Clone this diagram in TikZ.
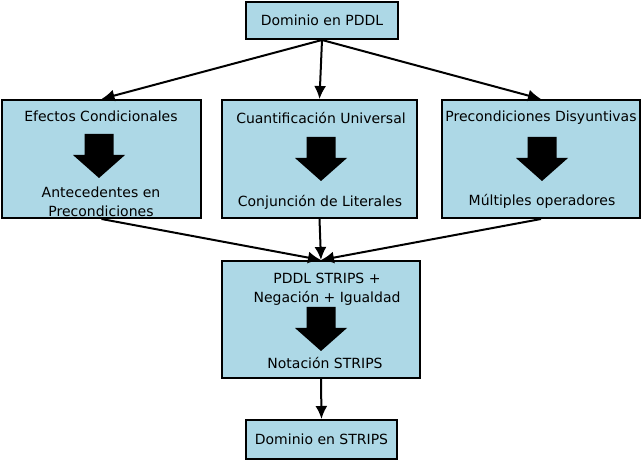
\documentclass[tikz,border=0pt]{standalone}
\usepackage{fontspec}
\setmainfont{DejaVu Sans}
\usetikzlibrary{positioning,arrows.meta}
\definecolor{cajaazul}{RGB}{173,216,230}
% flecha gruesa hacia abajo: centro x, borde superior y
\newcommand{\flechagrande}[2]{%
  \fill[black] (#1-14.5,#2) -- (#1+14.5,#2) -- (#1+14.5,#2+21) -- (#1+26,#2+21)
    -- (#1,#2+44) -- (#1-26,#2+21) -- (#1-14.5,#2+21) -- cycle;}

\begin{document}
\begin{tikzpicture}[x=1pt,y=-1pt,
      caja/.style={rectangle,draw=black,line width=2pt,fill=cajaazul,inner sep=0pt},
      texto/.style={align=center,inner sep=0pt},
      arr/.style={line width=2pt,-{Latex[length=13pt,width=12pt]}}
      ]
      \fontsize{14pt}{19pt}\selectfont
      \useasboundingbox (0,0) rectangle (643,462);
      % cajas
      \node (pddl)    [caja,minimum width=152pt,minimum height=37pt] at (322,20.5) {};
      \node (efectos) [caja,minimum width=199pt,minimum height=118pt] at (101.5,159) {};
      \node (cuant)   [caja,minimum width=195pt,minimum height=118pt] at (319.5,159) {};
      \node (disy)    [caja,minimum width=198pt,minimum height=118pt] at (541,159) {};
      \node (central) [caja,minimum width=198pt,minimum height=117pt] at (321,319.5) {};
      \node (strips)  [caja,minimum width=151pt,minimum height=39pt] at (321.5,439.5) {};
      % textos
      \node (t0) [texto] at (pddl) {Dominio en PDDL};
      \node (t1) [texto] at (101,116) {Efectos Condicionales};
      \node (t2) [texto] at (101,202) {Antecedentes en\\Precondiciones};
      \node (t3) [texto] at (321,118) {Cuantificación Universal};
      \node (t4) [texto] at (320,202) {Conjunción de Literales};
      \node (t5) [texto] at (541,118) {Precondiciones Disyuntivas};
      \node (t6) [texto] at (542,201) {Múltiples operadores};
      \node (t7) [texto] at (327,289) {PDDL STRIPS +\\Negación + Igualdad};
      \node (t8) [texto] at (325,363) {Notación STRIPS};
      \node (t9) [texto] at (strips) {Dominio en STRIPS};
      % flechas grandes
      \flechagrande{99}{134}
      \flechagrande{321}{137}
      \flechagrande{542}{137}
      \flechagrande{321}{307}
      % conectores
      \draw[arr] (pddl.south) -- (efectos.north);
      \draw[arr] (pddl.south) -- (cuant.north);
      \draw[arr] (pddl.south) -- (disy.north);
      \draw[arr] (efectos.south) -- (central.north);
      \draw[arr] (cuant.south) -- (central.north);
      \draw[arr] (disy.south) -- (central.north);
      \draw[arr] (central.south) -- (strips.north);
    \end{tikzpicture}
\end{document}
